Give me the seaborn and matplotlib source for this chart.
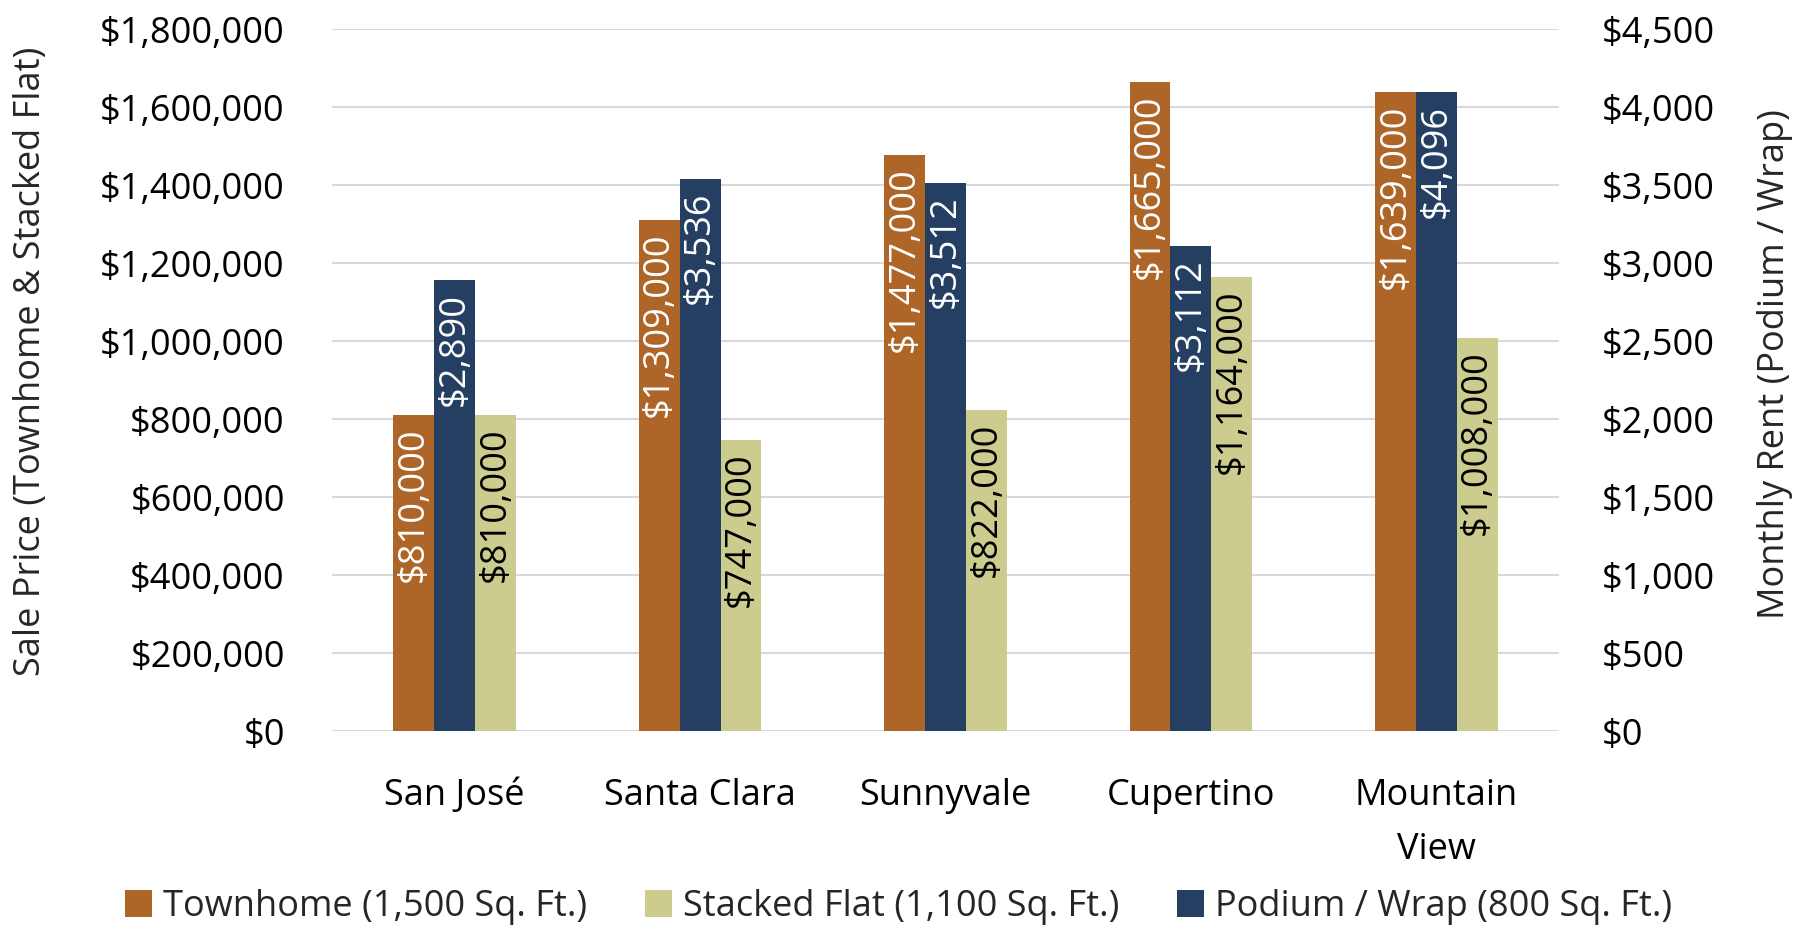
import matplotlib
matplotlib.use("Agg")
import matplotlib.pyplot as plt
from matplotlib.patches import Patch
from matplotlib.ticker import FuncFormatter, MultipleLocator
import seaborn as sns
import pandas as pd

# Data
cities = ["San José", "Santa Clara", "Sunnyvale", "Cupertino", "Mountain\nView"]
townhome = [810000, 1309000, 1477000, 1665000, 1639000]
podium = [2890, 3536, 3512, 3112, 4096]
stacked = [810000, 747000, 822000, 1164000, 1008000]

s_town = "Townhome (1,500 Sq. Ft.)"
s_pod = "Podium / Wrap (800 Sq. Ft.)"
s_stack = "Stacked Flat (1,100 Sq. Ft.)"
bar_order = [s_town, s_pod, s_stack]
legend_order = [s_town, s_stack, s_pod]
colors = {s_town: "#AD6628", s_pod: "#243F62", s_stack: "#CBCC8E"}
label_colors = {s_town: "white", s_pod: "white", s_stack: "black"}

sale = pd.DataFrame({
    "city": cities * 2,
    "series": [s_town] * 5 + [s_stack] * 5,
    "value": townhome + stacked,
})
rent = pd.DataFrame({
    "city": cities,
    "series": [s_pod] * 5,
    "value": podium,
})

sns.set_theme(style="white")
FONT = ["Open Sans", "DejaVu Sans"]
plt.rcParams["font.family"] = FONT

fig = plt.figure(figsize=(18.08, 9.30), dpi=100)
ax = fig.add_axes([332 / 1808, 1 - 731 / 930, (1559 - 332) / 1808, (731 - 29) / 930])
ax2 = ax.twinx()

BAR_W = 0.5
sns.barplot(data=sale, x="city", y="value", hue="series", hue_order=bar_order,
            order=cities, palette=colors, width=BAR_W, saturation=1, dodge=True,
            errorbar=None, legend=False, linewidth=0, ax=ax, zorder=2)
sns.barplot(data=rent, x="city", y="value", hue="series", hue_order=bar_order,
            order=cities, palette=colors, width=BAR_W, saturation=1, dodge=True,
            errorbar=None, legend=False, linewidth=0, ax=ax2, zorder=2)

FS = 26
money = FuncFormatter(lambda v, p: f"${v:,.0f}")

ax.set_ylim(0, 1800000)
ax.yaxis.set_major_locator(MultipleLocator(200000))
ax.yaxis.set_major_formatter(money)
ax2.set_ylim(0, 4500)
ax2.yaxis.set_major_locator(MultipleLocator(500))
ax2.yaxis.set_major_formatter(money)

ax.grid(axis="y", color="#D9D9D9", linewidth=1.5, zorder=0)
ax.set_axisbelow(True)
for a in (ax, ax2):
    for sp in a.spines.values():
        sp.set_visible(False)
    a.tick_params(axis="both", length=0, labelsize=FS, colors="black")
ax.tick_params(axis="y", pad=34)
ax2.tick_params(axis="y", pad=31)
ax.tick_params(axis="x", pad=34)
for t in ax.get_xticklabels():
    t.set_linespacing(1.65)
ax.set_xlabel("")
ax.set_ylabel("")
ax2.set_ylabel("")

fig.text(31 / 1808, 1 - 361 / 930, "Sale Price (Townhome & Stacked Flat)",
         rotation=90, ha="center", va="center", fontsize=FS, family=FONT)
fig.text(1775 / 1808, 1 - 364 / 930, "Monthly Rent (Podium / Wrap)",
         rotation=90, ha="center", va="center", fontsize=FS, family=FONT)


def label_bars(axis, present):
    filled = [c for c in axis.containers if len(c) > 0]
    for name, cont in zip(present, filled):
        for patch in cont:
            h = patch.get_height()
            axis.annotate(f"${h:,.0f}",
                          xy=(patch.get_x() + patch.get_width() / 2, h),
                          xytext=(0, -9), textcoords="offset points",
                          rotation=90, ha="center", va="top",
                          fontsize=FS, color=label_colors[name], zorder=5)


label_bars(ax, [s_town, s_stack])
label_bars(ax2, [s_pod])

handles = [Patch(facecolor=colors[s], edgecolor="none") for s in legend_order]
fig.legend(handles, legend_order, loc="center", bbox_to_anchor=(0.497, 1 - 907 / 930),
           ncol=3, frameon=False, fontsize=FS, handlelength=0.75, handleheight=0.75,
           handletextpad=0.3, columnspacing=1.6)

fig.savefig("out.png", dpi=100)
